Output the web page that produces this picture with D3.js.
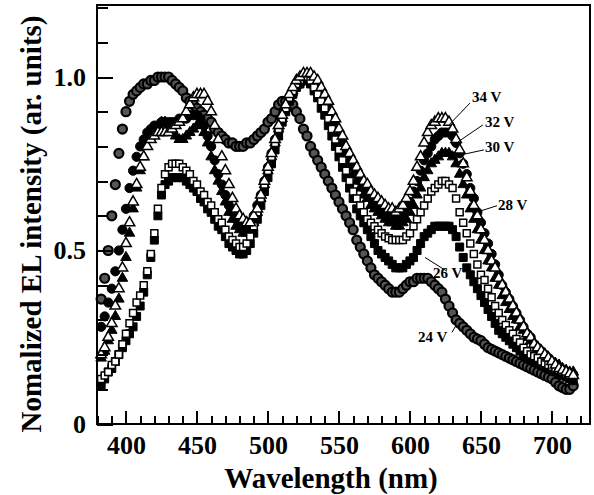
<!DOCTYPE html>
<html>
<head>
<meta charset="utf-8">
<script src="https://cdn.jsdelivr.net/npm/d3@7/dist/d3.min.js"></script>
<style>
  body { margin: 0; background: #fff; }
  svg { display: block; }
  text { font-family: "Liberation Serif", "Times New Roman", serif; font-weight: bold; fill: #000; }
</style>
</head>
<body>
<div id="chart"></div>
<script>
// longueurs d'onde (nm), pas de 2,5 nm
const wavelengths = [
  382.5,385,387.5,390, 392.5,395,397.5,400, 402.5,405,407.5,410, 412.5,415,417.5,420,
  422.5,425,427.5,430, 432.5,435,437.5,440, 442.5,445,447.5,450, 452.5,455,457.5,460,
  462.5,465,467.5,470, 472.5,475,477.5,480, 482.5,485,487.5,490, 492.5,495,497.5,500,
  502.5,505,507.5,510, 512.5,515,517.5,520, 522.5,525,527.5,530, 532.5,535,537.5,540,
  542.5,545,547.5,550, 552.5,555,557.5,560, 562.5,565,567.5,570, 572.5,575,577.5,580,
  582.5,585,587.5,590, 592.5,595,597.5,600, 602.5,605,607.5,610, 612.5,615,617.5,620,
  622.5,625,627.5,630, 632.5,635,637.5,640, 642.5,645,647.5,650, 652.5,655,657.5,660,
  662.5,665,667.5,670, 672.5,675,677.5,680, 682.5,685,687.5,690, 692.5,695,697.5,700,
  702.5,705,707.5,710, 712.5,715];

const v24 = [
  0.36,0.42,0.50,0.60, 0.69,0.78,0.85,0.90, 0.93,0.95,0.96,0.97, 0.98,0.98,0.99,0.99,
  1.00,1.00,1.00,1.00, 0.99,0.98,0.97,0.96, 0.94,0.93,0.92,0.91, 0.90,0.89,0.88,0.87,
  0.85,0.84,0.83,0.82, 0.81,0.81,0.80,0.80, 0.80,0.81,0.81,0.82, 0.83,0.84,0.85,0.87,
  0.88,0.90,0.92,0.93, 0.93,0.93,0.92,0.90, 0.88,0.85,0.83,0.80, 0.78,0.76,0.74,0.72,
  0.70,0.68,0.66,0.64, 0.62,0.60,0.58,0.56, 0.53,0.51,0.49,0.47, 0.45,0.43,0.42,0.41,
  0.40,0.39,0.38,0.38, 0.38,0.39,0.40,0.41, 0.41,0.42,0.42,0.42, 0.42,0.41,0.40,0.39,
  0.38,0.36,0.34,0.32, 0.30,0.29,0.28,0.27, 0.26,0.25,0.245,0.24, 0.23,0.22,0.215,0.21,
  0.205,0.20,0.195,0.19, 0.185,0.18,0.175,0.17, 0.165,0.16,0.155,0.15, 0.145,0.14,0.135,0.13,
  0.12,0.11,0.105,0.10, 0.10,0.11];
const v26 = [
  0.11,0.13,0.15,0.16, 0.18,0.20,0.22,0.24, 0.26,0.28,0.31,0.34, 0.38,0.43,0.48,0.53,
  0.60,0.66,0.69,0.70, 0.71,0.71,0.71,0.71, 0.70,0.69,0.68,0.67, 0.65,0.64,0.62,0.61,
  0.59,0.57,0.56,0.54, 0.52,0.51,0.50,0.49, 0.49,0.50,0.52,0.55, 0.59,0.63,0.67,0.71,
  0.75,0.79,0.83,0.87, 0.90,0.93,0.95,0.97, 0.98,0.99,0.99,0.98, 0.96,0.94,0.91,0.89,
  0.86,0.83,0.80,0.77, 0.74,0.71,0.68,0.65, 0.62,0.60,0.58,0.56, 0.54,0.52,0.50,0.49,
  0.48,0.47,0.46,0.45, 0.45,0.45,0.46,0.47, 0.48,0.50,0.52,0.54, 0.55,0.56,0.57,0.57,
  0.57,0.57,0.57,0.56, 0.54,0.51,0.48,0.45, 0.43,0.41,0.39,0.37, 0.35,0.33,0.31,0.29,
  0.27,0.26,0.25,0.24, 0.23,0.22,0.21,0.20, 0.19,0.185,0.18,0.175, 0.17,0.165,0.16,0.155,
  0.15,0.145,0.14,0.135, 0.13,0.125];
const v28 = [
  0.13,0.14,0.15,0.17, 0.18,0.20,0.23,0.26, 0.29,0.32,0.35,0.37, 0.40,0.44,0.49,0.55,
  0.62,0.68,0.72,0.74, 0.75,0.75,0.75,0.74, 0.73,0.72,0.70,0.69, 0.67,0.66,0.64,0.63,
  0.61,0.59,0.58,0.56, 0.54,0.53,0.52,0.51, 0.51,0.52,0.54,0.57, 0.61,0.65,0.69,0.73,
  0.77,0.81,0.85,0.88, 0.91,0.94,0.96,0.98, 0.99,1.00,1.00,0.99, 0.97,0.95,0.93,0.91,
  0.88,0.85,0.82,0.79, 0.76,0.73,0.70,0.67, 0.65,0.63,0.61,0.59, 0.58,0.57,0.56,0.55,
  0.54,0.535,0.53,0.53, 0.53,0.53,0.54,0.55, 0.57,0.59,0.61,0.63, 0.65,0.67,0.68,0.69,
  0.70,0.70,0.69,0.68, 0.65,0.61,0.58,0.55, 0.52,0.49,0.46,0.43, 0.415,0.39,0.365,0.34,
  0.32,0.30,0.285,0.27, 0.26,0.245,0.235,0.22, 0.21,0.20,0.195,0.19, 0.18,0.175,0.17,0.165,
  0.16,0.155,0.15,0.145, 0.14,0.14];
const v30 = [
  0.19,0.21,0.24,0.27, 0.31,0.36,0.42,0.48, 0.55,0.62,0.68,0.73, 0.77,0.80,0.83,0.85,
  0.86,0.87,0.87,0.86, 0.85,0.83,0.82,0.82, 0.83,0.84,0.85,0.86, 0.86,0.84,0.81,0.77,
  0.73,0.70,0.67,0.64, 0.61,0.59,0.57,0.56, 0.55,0.55,0.56,0.58, 0.61,0.65,0.69,0.73,
  0.77,0.81,0.85,0.88, 0.91,0.94,0.96,0.98, 0.99,1.00,1.00,1.00, 0.98,0.97,0.95,0.92,
  0.90,0.87,0.85,0.82, 0.79,0.77,0.74,0.72, 0.70,0.68,0.66,0.65, 0.63,0.62,0.61,0.60,
  0.59,0.58,0.58,0.57, 0.57,0.58,0.59,0.61, 0.63,0.66,0.68,0.71, 0.73,0.75,0.76,0.77,
  0.78,0.78,0.78,0.77, 0.75,0.72,0.69,0.66, 0.62,0.59,0.56,0.53, 0.50,0.47,0.45,0.42,
  0.40,0.37,0.35,0.33, 0.31,0.30,0.28,0.27, 0.25,0.24,0.23,0.22, 0.21,0.20,0.19,0.18,
  0.175,0.17,0.16,0.155, 0.15,0.15];
const v32 = [
  0.28,0.31,0.35,0.39, 0.44,0.50,0.56,0.62, 0.68,0.73,0.77,0.80, 0.82,0.84,0.85,0.86,
  0.86,0.87,0.87,0.87, 0.87,0.87,0.88,0.88, 0.88,0.89,0.89,0.89, 0.88,0.86,0.83,0.80,
  0.76,0.72,0.69,0.66, 0.63,0.61,0.59,0.58, 0.57,0.57,0.58,0.60, 0.63,0.66,0.70,0.74,
  0.78,0.82,0.85,0.88, 0.91,0.93,0.95,0.97, 0.98,0.99,0.99,0.99, 0.98,0.97,0.95,0.93,
  0.91,0.88,0.86,0.83, 0.81,0.78,0.76,0.74, 0.72,0.70,0.68,0.67, 0.65,0.64,0.63,0.62,
  0.61,0.60,0.60,0.59, 0.60,0.61,0.62,0.64, 0.67,0.70,0.73,0.76, 0.78,0.80,0.82,0.83,
  0.84,0.84,0.84,0.83, 0.81,0.78,0.75,0.72, 0.68,0.65,0.61,0.58, 0.55,0.52,0.49,0.46,
  0.43,0.40,0.38,0.36, 0.34,0.32,0.30,0.28, 0.26,0.25,0.23,0.22, 0.21,0.20,0.19,0.18,
  0.17,0.16,0.155,0.15, 0.145,0.14];
const v34 = [
  0.20,0.22,0.25,0.29, 0.34,0.39,0.45,0.52, 0.58,0.64,0.69,0.74, 0.77,0.80,0.82,0.83,
  0.84,0.84,0.84,0.84, 0.85,0.86,0.87,0.88, 0.90,0.92,0.94,0.95, 0.95,0.95,0.93,0.90,
  0.86,0.82,0.77,0.73, 0.69,0.65,0.62,0.60, 0.59,0.58,0.58,0.60, 0.62,0.66,0.70,0.74,
  0.78,0.82,0.86,0.89, 0.92,0.95,0.97,0.99, 1.00,1.01,1.01,1.01, 1.00,0.99,0.97,0.95,
  0.93,0.90,0.88,0.85, 0.83,0.80,0.78,0.76, 0.74,0.72,0.70,0.69, 0.67,0.66,0.65,0.64,
  0.63,0.62,0.62,0.61, 0.62,0.63,0.65,0.67, 0.70,0.74,0.77,0.81, 0.84,0.86,0.87,0.88,
  0.88,0.88,0.87,0.85, 0.82,0.79,0.75,0.71, 0.67,0.63,0.60,0.56, 0.53,0.50,0.47,0.45,
  0.42,0.40,0.38,0.36, 0.34,0.32,0.30,0.28, 0.26,0.25,0.23,0.22, 0.21,0.20,0.19,0.18,
  0.17,0.16,0.155,0.15, 0.145,0.14];

const xMajorTicks = [400, 450, 500, 550, 600, 650, 700];
const yMajorTicks = [0, 0.5, 1.0];
const yTickLabels = ["0", "0.5", "1.0"];

const seriesNames = ["24 V", "26 V", "28 V", "30 V", "32 V", "34 V"];
// position des étiquettes (nm, intensité) et du trait de rappel
const labelX = [605.7, 616.2, 662.0, 652.8, 652.8, 643.7];
const labelY = [0.236, 0.420, 0.618, 0.784, 0.856, 0.928];
const leaderFrom = [[629.6,0.264],[626.1,0.440],[661.3,0.629],[652.1,0.790],[651.4,0.862],[642.3,0.925]];
const leaderTo = [[632.4,0.284],[610.6,0.480],[645.8,0.609],[633.1,0.773],[633.8,0.813],[627.5,0.862]];

const width = 594, height = 495;
const mLeft = 97, mRight = 590, mTop = 5, mBottom = 424;

const svg = d3.select("#chart").append("svg")
    .attr("width", width)
    .attr("height", height);

const x = d3.scaleLinear().domain([379.6, 726.8]).range([mLeft, mRight]);
const y = d3.scaleLinear().domain([0, 1.2075]).range([mBottom, mTop]);

// séries (ordre de superposition : symboles vides au-dessus)
const series = [
    { name: "24 V", values: v24, shape: "circle", filled: false },
    { name: "26 V", values: v26, shape: "square", filled: true },
    { name: "32 V", values: v32, shape: "circle", filled: true },
    { name: "30 V", values: v30, shape: "triangle", filled: true },
    { name: "28 V", values: v28, shape: "square", filled: false },
    { name: "34 V", values: v34, shape: "triangle", filled: false }
];

const plot = svg.append("g");

series.forEach(s => {
    const pts = wavelengths.map((w, i) => ({ w: w, v: s.values[i] }));
    const g = plot.append("g").attr("class", "serie");
    if (s.shape === "circle") {
        // 24 V : cercles à bord épais, intérieur gris foncé comme sur le scan
        g.selectAll("circle").data(pts).join("circle")
            .attr("cx", d => x(d.w))
            .attr("cy", d => y(d.v))
            .attr("r", s.filled ? 4.6 : 4.5)
            .attr("fill", s.filled ? "#000" : "#555")
            .attr("stroke", "#000")
            .attr("stroke-width", s.filled ? 1 : 2.2);
    } else {
        const sym = d3.symbol()
            .type(s.shape === "square" ? d3.symbolSquare : d3.symbolTriangle)
            .size(s.shape === "square" ? (s.filled ? 64 : 49) : 48);
        g.selectAll("path").data(pts).join("path")
            .attr("d", sym)
            .attr("transform", d => `translate(${x(d.w)},${y(d.v)})`)
            .attr("fill", s.filled ? "#000" : "#fff")
            .attr("stroke", "#000")
            .attr("stroke-width", s.filled ? 1 : 1.5);
    }
});

// axes : ticks vers l'intérieur
const xMinor = d3.range(380, 721, 10).filter(d => !xMajorTicks.includes(d));
const yMinor = d3.range(1, 13).map(d => d / 10).filter(d => !yMajorTicks.some(m => Math.abs(m - d) < 1e-6));

const xAxis = svg.append("g").attr("transform", `translate(0,${mBottom})`);
xAxis.call(d3.axisBottom(x).tickValues(xMinor).tickSize(-8).tickFormat(""));
xAxis.append("g").call(d3.axisBottom(x).tickValues(xMajorTicks).tickSize(-13).tickPadding(12).tickFormat(d3.format("d")));

const yAxis = svg.append("g").attr("transform", `translate(${mLeft},0)`);
yAxis.call(d3.axisLeft(y).tickValues(yMinor).tickSize(-11).tickFormat(""));
yAxis.append("g").call(d3.axisLeft(y).tickValues(yMajorTicks).tickSize(-16).tickPadding(11).tickFormat((d, i) => yTickLabels[i]));

svg.selectAll(".domain").remove();
svg.selectAll(".tick line")
    .attr("stroke", "#000")
    .attr("stroke-width", 2)
    .attr("shape-rendering", "crispEdges");
svg.selectAll(".tick text")
    .attr("font-size", 26)
    .attr("font-family", "Liberation Serif, Times New Roman, serif")
    .attr("font-weight", "bold")
    .attr("fill", "#000");

svg.append("path")
    .attr("d", `M${mLeft},${mTop}H${mRight}V${mBottom}H${mLeft}Z`)
    .attr("fill", "none")
    .attr("stroke", "#000")
    .attr("stroke-width", 2.5)
    .attr("shape-rendering", "crispEdges");

// étiquettes de tension
const labels = svg.append("g");
seriesNames.forEach((n, i) => {
    labels.append("line")
        .attr("x1", x(leaderFrom[i][0])).attr("y1", y(leaderFrom[i][1]))
        .attr("x2", x(leaderTo[i][0])).attr("y2", y(leaderTo[i][1]))
        .attr("stroke", "#000").attr("stroke-width", 1);
    labels.append("text")
        .attr("x", x(labelX[i]))
        .attr("y", y(labelY[i]))
        .attr("font-size", 15)
        .text(n);
});

// titres
svg.append("text")
    .attr("x", 331).attr("y", 488)
    .attr("text-anchor", "middle")
    .attr("font-size", 29)
    .text("Wavelength (nm)");

svg.append("text")
    .attr("transform", "translate(41,224) rotate(-90)")
    .attr("text-anchor", "middle")
    .attr("font-size", 29)
    .text("Nomalized EL intensity (ar. units)");
</script>
</body>
</html>
